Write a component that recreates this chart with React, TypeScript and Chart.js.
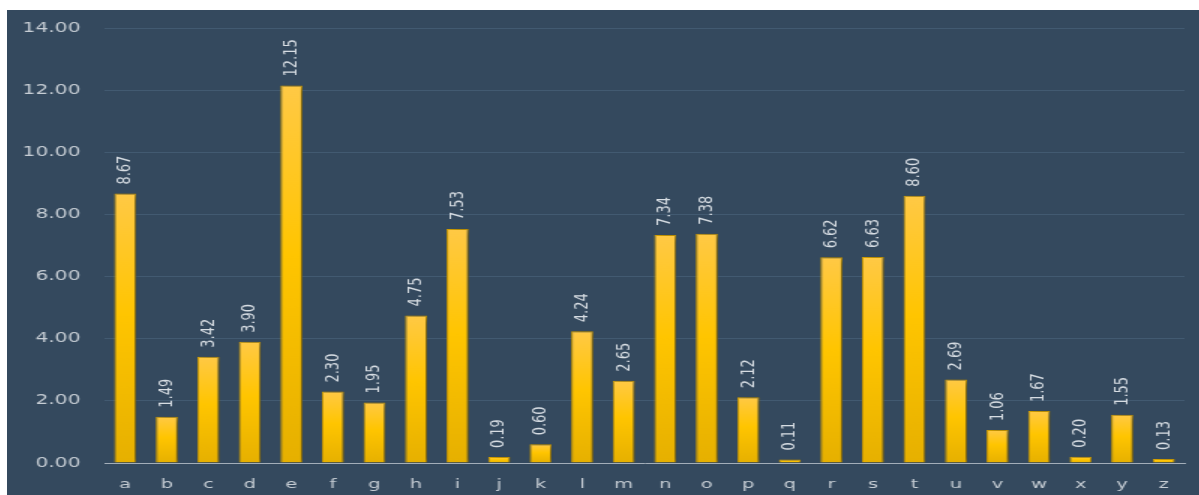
import React, { useEffect, useRef } from "react";
import { Chart, registerables } from "chart.js";

Chart.register(...registerables);

const categories = ["a","b","c","d","e","f","g","h","i","j","k","l","m","n","o","p","q","r","s","t","u","v","w","x","y","z"];
const values = [8.67,1.49,3.42,3.90,12.15,2.30,1.95,4.75,7.53,0.19,0.60,4.24,2.65,7.34,7.38,2.12,0.11,6.62,6.63,8.60,2.69,1.06,1.67,0.20,1.55,0.13];
const yMin = 0;
const yMax = 14;
const yStep = 2;

const STRETCH = 1.5;
const BOX_W = 1192;
const BOX_H = 485;

export default function App() {
  const ref = useRef<HTMLCanvasElement | null>(null);

  useEffect(() => {
    const canvas = ref.current;
    if (!canvas) return;

    const barDecor = {
      id: "barDecor",
      beforeDatasetsDraw(chart: any) {
        const c = chart.ctx;
        c.save();
        c.shadowColor = "rgba(10,20,35,0.55)";
        c.shadowBlur = 6;
        c.shadowOffsetX = 3;
        c.shadowOffsetY = 1;
      },
      afterDatasetsDraw(chart: any) {
        const c = chart.ctx;
        c.restore();
        const meta = chart.getDatasetMeta(0);
        c.save();
        c.fillStyle = "#d6dce2";
        c.font = "13px 'DejaVu Sans'";
        c.textAlign = "left";
        c.textBaseline = "middle";
        meta.data.forEach((bar: any, i: number) => {
          c.save();
          c.translate(bar.x, bar.y - 9);
          c.rotate(-Math.PI / 2);
          c.fillText(values[i].toFixed(2), 0, 0);
          c.restore();
        });
        c.restore();
      },
    };

    const chart = new Chart(canvas, {
      type: "bar",
      data: {
        labels: categories,
        datasets: [
          {
            data: values,
            backgroundColor: (ctx: any) => {
              const ch = ctx.chart;
              const ys = ch.scales && ch.scales.y;
              if (!ys || ctx.type !== "data") return "#FFC400";
              const top = ys.getPixelForValue(ctx.raw);
              const bot = ys.getPixelForValue(0);
              if (!isFinite(top) || !isFinite(bot) || bot - top < 1) return "#FFC400";
              const g = ch.ctx.createLinearGradient(0, top, 0, bot);
              g.addColorStop(0, "#FFC945");
              g.addColorStop(0.45, "#FFC500");
              g.addColorStop(1, "#E6B000");
              return g;
            },
            borderColor: "#D9A400",
            borderWidth: 1,
            barPercentage: 0.53,
            categoryPercentage: 1,
          },
        ],
      },
      options: {
        responsive: false,
        animation: false,
        devicePixelRatio: 1,
        layout: { padding: { left: 0, right: 10, top: 18, bottom: 0 } },
        plugins: {
          legend: { display: false },
          tooltip: { enabled: false },
        },
        scales: {
          x: {
            grid: { display: false, drawTicks: false },
            border: { display: true, color: "#a3aeb9", width: 1 },
            ticks: {
              color: "#c6cdd4",
              font: { family: "'DejaVu Sans'", size: 13 },
              padding: 14,
              maxRotation: 0,
            },
            afterFit: (scale: any) => {
              scale.height = 32;
            },
          },
          y: {
            min: yMin,
            max: yMax,
            grid: { color: "#425a71", lineWidth: 1, drawTicks: false },
            border: { display: false },
            ticks: {
              stepSize: yStep,
              color: "#c6cdd4",
              font: { family: "'DejaVu Sans'", size: 13.5 },
              padding: 16,
              callback: (v: any) => Number(v).toFixed(2),
            },
            afterFit: (scale: any) => {
              scale.width = 65;
              scale.paddingTop = 0;
              scale.paddingBottom = 0;
            },
          },
        },
      },
      plugins: [barDecor],
    });

    return () => chart.destroy();
  }, []);

  const innerW = Math.round(BOX_W / STRETCH);

  return (
    <div
      style={{
        position: "absolute",
        left: 7,
        top: 10,
        width: BOX_W,
        height: BOX_H,
        background: "#34495e",
        overflow: "hidden",
      }}
    >
      <div
        style={{
          width: innerW,
          height: BOX_H,
          transform: `scaleX(${STRETCH})`,
          transformOrigin: "0 0",
        }}
      >
        <canvas ref={ref} width={innerW} height={BOX_H} />
      </div>
    </div>
  );
}
